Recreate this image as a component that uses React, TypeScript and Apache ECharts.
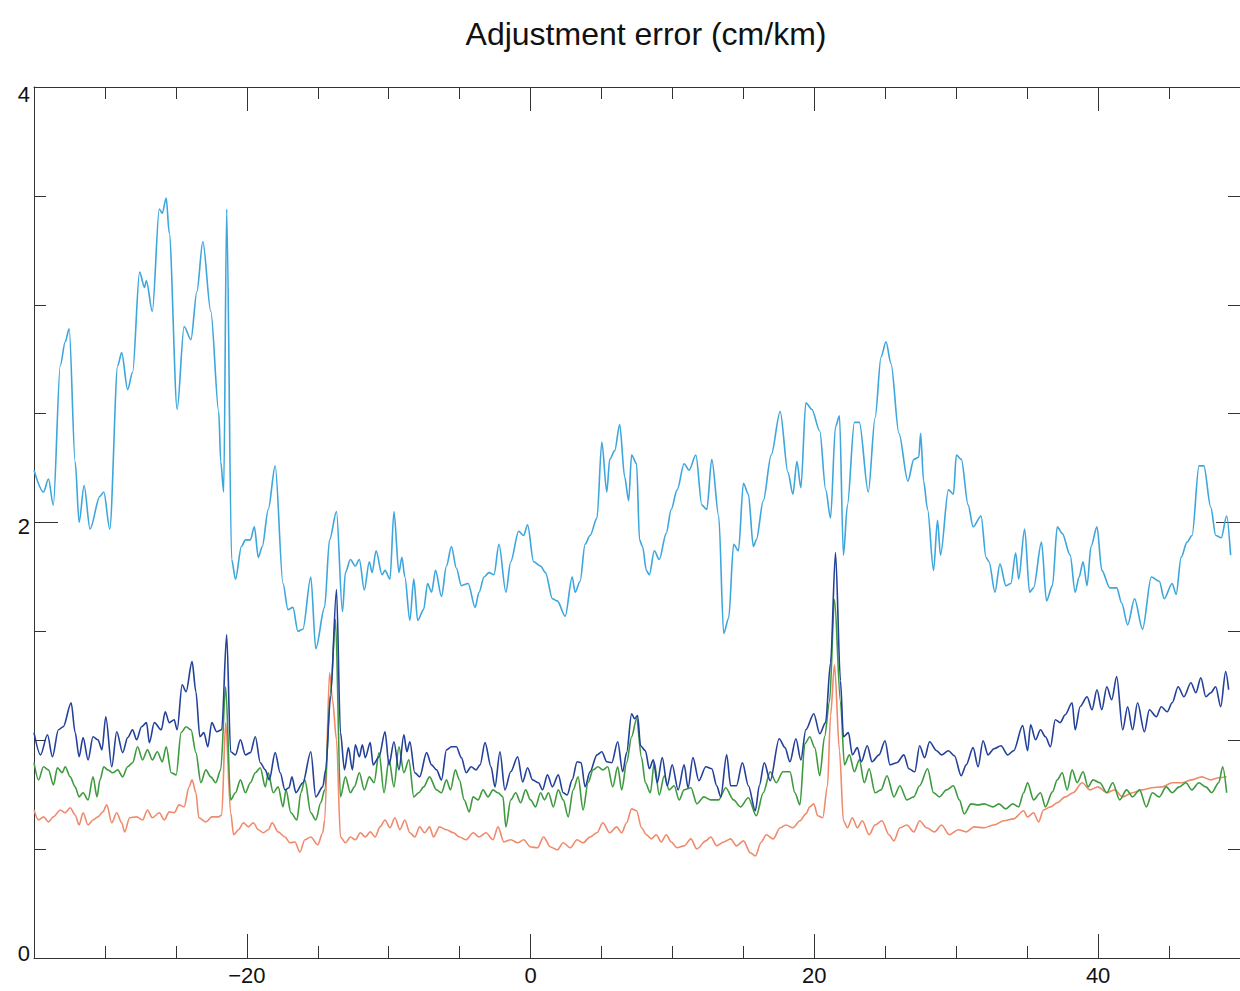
import React, { useEffect, useRef } from "react";
import * as echarts from "echarts";

const titleText = "Adjustment error (cm/km)";

const xMajorTicks = [-20, 0, 20, 40];
const xMinorTicks = [-30, -25, -15, -10, -5, 5, 10, 15, 25, 30, 35, 45];
const yLabelValues = [0, 2, 4];
const yMajorTicks = [2];
const yMinorTicks = [0.5, 1, 1.5, 2.5, 3, 3.5];

const lightBlueData = [
  [-35.0, 2.24], [-34.33, 2.14], [-33.98, 2.2], [-33.64, 2.08], [-33.15, 2.72], [-32.8, 2.83], [-32.52, 2.89],
  [-32.1, 2.28], [-31.82, 2.0], [-31.47, 2.17], [-31.05, 1.97], [-30.36, 2.12], [-30.08, 2.14], [-29.66, 1.97],
  [-29.1, 2.72], [-28.82, 2.78], [-28.4, 2.61], [-28.05, 2.69], [-27.56, 3.15], [-27.21, 3.08], [-27.08, 3.11],
  [-26.66, 2.97], [-26.17, 3.44], [-25.96, 3.42], [-25.68, 3.49], [-25.47, 3.33], [-24.91, 2.52], [-24.42, 2.9],
  [-23.94, 2.84], [-23.52, 3.06], [-23.1, 3.29], [-22.54, 2.97], [-21.98, 2.51], [-21.84, 2.28], [-21.63, 2.14],
  [-21.42, 3.44], [-21.07, 1.83], [-20.8, 1.74], [-20.38, 1.89], [-20.1, 1.92], [-19.75, 1.92], [-19.47, 1.98],
  [-19.19, 1.84], [-18.91, 1.89], [-18.49, 2.06], [-18.0, 2.26], [-17.45, 1.72], [-17.1, 1.6], [-16.75, 1.61],
  [-16.4, 1.5], [-16.05, 1.51], [-15.49, 1.75], [-15.14, 1.42], [-14.52, 1.61], [-14.17, 1.92], [-13.68, 2.05],
  [-13.26, 1.59], [-13.05, 1.77], [-12.7, 1.83], [-12.35, 1.8], [-12.07, 1.83], [-11.72, 1.69], [-11.37, 1.82],
  [-11.17, 1.77], [-10.89, 1.87], [-10.47, 1.76], [-10.26, 1.78], [-9.91, 1.74], [-9.63, 2.05], [-9.28, 1.77],
  [-9.07, 1.84], [-8.86, 1.75], [-8.51, 1.55], [-8.23, 1.74], [-7.96, 1.55], [-7.54, 1.6], [-7.26, 1.72],
  [-6.98, 1.68], [-6.7, 1.78], [-6.28, 1.66], [-5.93, 1.8], [-5.58, 1.89], [-5.23, 1.79], [-4.88, 1.71],
  [-4.4, 1.72], [-3.91, 1.61], [-3.63, 1.68], [-3.28, 1.75], [-2.93, 1.77], [-2.58, 1.76], [-2.23, 1.9],
  [-1.74, 1.68], [-1.4, 1.82], [-0.84, 1.96], [-0.49, 1.94], [-0.21, 1.99], [0.21, 1.82], [0.7, 1.8],
  [1.05, 1.77], [1.54, 1.65], [1.88, 1.64], [2.44, 1.57], [2.93, 1.75], [3.14, 1.68], [3.49, 1.73],
  [3.84, 1.9], [4.19, 1.94], [4.68, 2.02], [5.02, 2.37], [5.37, 2.14], [5.58, 2.29], [5.93, 2.33],
  [6.28, 2.45], [6.63, 2.21], [6.91, 2.1], [7.12, 2.31], [7.47, 2.27], [7.68, 1.92], [7.89, 1.89],
  [8.16, 1.78], [8.37, 1.76], [8.72, 1.87], [9.07, 1.83], [9.56, 1.95], [9.91, 2.06], [10.33, 2.15],
  [10.82, 2.27], [11.17, 2.24], [11.65, 2.31], [12.07, 2.08], [12.42, 2.06], [12.77, 2.29], [13.26, 2.03],
  [13.61, 1.49], [13.96, 1.56], [14.31, 1.9], [14.65, 1.87], [15.0, 2.18], [15.35, 2.13], [15.7, 1.89],
  [15.91, 1.92], [16.4, 2.1], [16.96, 2.31], [17.59, 2.51], [18.14, 2.23], [18.49, 2.13], [18.77, 2.28],
  [19.05, 2.16], [19.4, 2.55], [19.82, 2.52], [20.38, 2.42], [20.8, 2.15], [21.14, 2.02], [21.49, 2.44],
  [21.77, 2.49], [22.05, 1.85], [22.33, 2.08], [22.82, 2.46], [23.17, 2.46], [23.8, 2.14], [24.28, 2.48],
  [24.7, 2.76], [25.05, 2.83], [25.4, 2.73], [25.96, 2.41], [26.59, 2.19], [27.01, 2.29], [27.36, 2.3],
  [27.49, 2.41], [27.7, 2.19], [27.98, 2.06], [28.4, 1.78], [28.68, 2.01], [28.89, 1.85], [29.45, 2.15],
  [29.8, 2.13], [30.01, 2.31], [30.36, 2.29], [30.84, 2.08], [31.19, 1.98], [31.75, 2.03], [32.1, 1.84],
  [32.31, 1.82], [32.73, 1.68], [33.08, 1.81], [33.5, 1.71], [33.85, 1.72], [34.19, 1.86], [34.4, 1.74],
  [34.82, 1.97], [35.17, 1.68], [35.45, 1.7], [36.01, 1.91], [36.36, 1.64], [36.78, 1.71], [37.12, 1.98],
  [37.47, 1.95], [38.03, 1.85], [38.38, 1.68], [38.66, 1.75], [38.94, 1.82], [39.22, 1.71], [39.5, 1.89],
  [39.92, 1.98], [40.26, 1.78], [40.82, 1.7], [41.31, 1.7], [41.66, 1.63], [42.08, 1.53], [42.57, 1.65],
  [43.13, 1.51], [43.75, 1.75], [44.31, 1.73], [44.66, 1.65], [45.22, 1.72], [45.5, 1.67], [45.85, 1.84],
  [46.27, 1.91], [46.62, 1.94], [47.11, 2.26], [47.45, 2.26], [47.94, 2.07], [48.29, 1.94], [48.68, 1.93],
  [49.06, 2.03], [49.34, 1.85],
];

const darkBlueData = [
  [-35.0, 1.035], [-34.54, 0.933], [-34.05, 1.025], [-33.7, 0.924], [-33.28, 1.048], [-32.94, 1.062], [-32.38, 1.172],
  [-32.1, 1.035], [-31.82, 0.924], [-31.54, 1.012], [-31.19, 0.91], [-30.84, 1.016], [-30.49, 1.002], [-30.21, 0.956],
  [-29.94, 1.108], [-29.52, 0.878], [-29.17, 1.039], [-28.75, 0.943], [-28.4, 1.012], [-28.05, 1.048], [-27.77, 1.002],
  [-27.42, 1.062], [-27.07, 1.081], [-26.87, 0.989], [-26.52, 1.081], [-26.03, 1.048], [-25.75, 1.131], [-25.47, 1.081],
  [-25.12, 1.094], [-24.91, 1.048], [-24.56, 1.255], [-24.28, 1.223], [-23.86, 1.361], [-23.59, 1.223], [-23.31, 1.016],
  [-23.03, 1.035], [-22.75, 0.97], [-22.47, 1.081], [-22.12, 1.039], [-21.77, 1.048], [-21.42, 1.485], [-21.14, 0.947],
  [-20.8, 0.933], [-20.45, 1.002], [-20.1, 0.933], [-19.75, 0.943], [-19.4, 1.016], [-19.05, 0.897], [-18.7, 0.864],
  [-18.42, 0.818], [-18.0, 0.943], [-17.65, 0.851], [-17.31, 0.772], [-17.03, 0.782], [-16.82, 0.832], [-16.54, 0.759],
  [-16.05, 0.805], [-15.49, 0.947], [-15.14, 0.74], [-14.65, 0.786], [-14.44, 0.864], [-14.1, 1.2], [-13.68, 1.692],
  [-13.4, 1.035], [-13.12, 0.864], [-12.84, 0.966], [-12.56, 0.864], [-12.35, 0.979], [-12.07, 0.924], [-11.86, 0.979],
  [-11.65, 0.92], [-11.3, 0.989], [-11.1, 0.887], [-10.68, 0.924], [-10.26, 1.039], [-9.98, 0.887], [-9.63, 0.993],
  [-9.28, 0.864], [-8.93, 1.025], [-8.72, 0.947], [-8.51, 0.993], [-8.16, 0.851], [-7.82, 0.832], [-7.33, 0.943],
  [-6.98, 0.887], [-6.63, 0.864], [-6.28, 0.818], [-5.93, 0.956], [-5.58, 0.97], [-5.23, 0.97], [-4.88, 0.92],
  [-4.54, 0.851], [-4.19, 0.878], [-3.84, 0.864], [-3.56, 0.887], [-3.21, 0.989], [-2.79, 0.878], [-2.51, 0.786],
  [-2.16, 0.947], [-1.81, 0.772], [-1.4, 0.855], [-0.91, 0.924], [-0.56, 0.809], [-0.21, 0.874], [0.14, 0.818],
  [0.56, 0.805], [0.84, 0.772], [1.19, 0.841], [1.54, 0.786], [1.95, 0.841], [2.3, 0.759], [2.58, 0.749],
  [2.93, 0.818], [3.28, 0.901], [3.56, 0.897], [3.84, 0.786], [4.19, 0.855], [4.68, 0.933], [5.02, 0.947],
  [5.37, 0.901], [5.72, 0.897], [6.14, 0.993], [6.49, 0.855], [6.77, 0.943], [7.12, 1.122], [7.33, 1.099],
  [7.54, 1.113], [7.75, 0.975], [8.09, 0.952], [8.37, 0.869], [8.65, 0.91], [8.93, 0.805], [9.28, 0.92],
  [9.63, 0.791], [9.98, 0.887], [10.4, 0.772], [10.82, 0.887], [11.1, 0.782], [11.44, 0.92], [11.86, 0.814],
  [12.35, 0.878], [12.77, 0.869], [13.12, 0.791], [13.4, 0.74], [13.82, 0.933], [14.1, 0.791], [14.51, 0.791],
  [14.93, 0.897], [15.35, 0.791], [15.84, 0.676], [16.12, 0.791], [16.47, 0.897], [16.89, 0.814], [17.52, 1.007],
  [17.93, 0.966], [18.28, 0.901], [18.7, 1.007], [19.05, 0.91], [19.4, 1.048], [19.96, 1.122], [20.38, 1.03],
  [20.79, 1.081], [21.14, 1.356], [21.49, 1.862], [21.84, 1.274], [22.05, 1.016], [22.4, 1.035], [22.68, 0.933],
  [23.03, 0.966], [23.31, 0.901], [23.73, 0.975], [24.07, 0.901], [24.56, 0.933], [24.98, 0.998], [25.33, 0.887],
  [25.82, 0.897], [26.31, 0.933], [26.66, 0.869], [27.08, 0.855], [27.42, 0.975], [27.77, 0.92], [28.12, 0.993],
  [28.61, 0.952], [28.96, 0.933], [29.45, 0.952], [29.87, 0.929], [30.35, 0.837], [30.7, 0.887], [31.19, 0.966],
  [31.54, 0.878], [31.89, 0.998], [32.24, 0.933], [32.66, 0.961], [33.15, 0.975], [33.63, 0.933], [34.05, 0.952],
  [34.68, 1.067], [35.03, 0.952], [35.24, 1.071], [35.59, 1.002], [35.94, 1.048], [36.29, 1.016], [36.64, 0.97],
  [36.98, 1.094], [37.33, 1.081], [37.68, 1.117], [38.17, 1.172], [38.38, 1.048], [38.73, 1.154], [39.22, 1.2],
  [39.57, 1.14], [39.92, 1.232], [40.26, 1.14], [40.61, 1.246], [40.96, 1.186], [41.31, 1.292], [41.73, 1.048],
  [42.08, 1.154], [42.43, 1.048], [42.78, 1.172], [43.26, 1.039], [43.61, 1.14], [44.1, 1.108], [44.45, 1.154],
  [44.87, 1.131], [45.22, 1.172], [45.64, 1.246], [46.05, 1.2], [46.54, 1.264], [46.89, 1.218], [47.24, 1.287],
  [47.59, 1.2], [47.94, 1.218], [48.29, 1.246], [48.64, 1.154], [48.99, 1.315], [49.2, 1.232],
];

const greenData = [
  [-35.0, 0.897], [-34.68, 0.818], [-34.33, 0.878], [-33.98, 0.864], [-33.63, 0.795], [-33.35, 0.874], [-33.01, 0.851],
  [-32.8, 0.878], [-32.45, 0.832], [-32.1, 0.786], [-31.82, 0.74], [-31.54, 0.759], [-31.19, 0.726], [-30.84, 0.832],
  [-30.56, 0.74], [-30.35, 0.818], [-30.08, 0.878], [-29.8, 0.864], [-29.45, 0.851], [-29.1, 0.864], [-28.75, 0.832],
  [-28.4, 0.878], [-28.05, 0.897], [-27.7, 0.97], [-27.35, 0.91], [-27.0, 0.956], [-26.66, 0.91], [-26.31, 0.947],
  [-25.96, 0.901], [-25.68, 0.97], [-25.33, 0.851], [-24.98, 0.841], [-24.63, 1.035], [-24.28, 1.062], [-23.93, 1.048],
  [-23.59, 0.943], [-23.24, 0.805], [-22.89, 0.864], [-22.54, 0.832], [-22.19, 0.805], [-21.84, 0.864], [-21.49, 1.246],
  [-21.14, 0.726], [-20.8, 0.759], [-20.45, 0.818], [-20.1, 0.759], [-19.75, 0.805], [-19.4, 0.851], [-19.05, 0.874],
  [-18.7, 0.786], [-18.49, 0.851], [-18.14, 0.759], [-17.79, 0.786], [-17.45, 0.694], [-17.24, 0.772], [-16.89, 0.667],
  [-16.47, 0.634], [-16.19, 0.759], [-15.91, 0.818], [-15.49, 0.667], [-15.14, 0.634], [-14.79, 0.713], [-14.51, 0.772],
  [-14.1, 1.218], [-13.75, 1.554], [-13.4, 0.74], [-13.05, 0.832], [-12.7, 0.759], [-12.42, 0.786], [-12.07, 0.851],
  [-11.72, 0.772], [-11.37, 0.832], [-11.03, 0.805], [-10.68, 0.943], [-10.33, 0.759], [-9.98, 0.91], [-9.63, 0.786],
  [-9.28, 0.97], [-8.93, 0.851], [-8.58, 0.91], [-8.23, 0.74], [-7.89, 0.759], [-7.54, 0.786], [-7.12, 0.832],
  [-6.63, 0.772], [-6.28, 0.759], [-5.93, 0.818], [-5.65, 0.772], [-5.3, 0.864], [-5.02, 0.818], [-4.68, 0.726],
  [-4.33, 0.671], [-4.05, 0.74], [-3.7, 0.726], [-3.35, 0.772], [-3.0, 0.74], [-2.65, 0.772], [-2.3, 0.759],
  [-1.95, 0.74], [-1.74, 0.602], [-1.4, 0.726], [-1.05, 0.759], [-0.7, 0.713], [-0.35, 0.772], [0.0, 0.726],
  [0.35, 0.694], [0.7, 0.759], [0.98, 0.726], [1.26, 0.759], [1.6, 0.694], [1.95, 0.772], [2.3, 0.726],
  [2.65, 0.648], [3.0, 0.772], [3.35, 0.832], [3.7, 0.68], [4.05, 0.805], [4.4, 0.864], [4.75, 0.878],
  [5.09, 0.864], [5.44, 0.878], [5.79, 0.786], [6.14, 0.878], [6.42, 0.772], [6.77, 0.897], [7.12, 1.016],
  [7.47, 1.099], [7.82, 0.92], [8.09, 0.805], [8.44, 0.759], [8.72, 0.897], [9.07, 0.749], [9.42, 0.837],
  [9.77, 0.772], [10.12, 0.791], [10.47, 0.726], [10.82, 0.772], [11.3, 0.782], [11.72, 0.708], [12.21, 0.74],
  [12.7, 0.726], [13.26, 0.726], [13.75, 0.782], [14.31, 0.726], [14.79, 0.694], [15.35, 0.736], [15.91, 0.653],
  [16.4, 0.759], [16.89, 0.855], [17.31, 0.805], [17.79, 0.855], [18.28, 0.855], [18.63, 0.759], [18.98, 0.703],
  [19.33, 0.984], [19.68, 1.016], [20.03, 0.966], [20.38, 0.837], [20.72, 1.016], [21.07, 1.177], [21.42, 1.646],
  [21.84, 1.177], [22.12, 0.887], [22.47, 0.933], [22.82, 0.855], [23.17, 0.91], [23.52, 0.805], [23.86, 0.869],
  [24.28, 0.759], [24.7, 0.772], [25.12, 0.837], [25.61, 0.74], [26.03, 0.791], [26.52, 0.726], [27.01, 0.74],
  [27.42, 0.791], [27.98, 0.869], [28.4, 0.759], [28.82, 0.74], [29.31, 0.772], [29.8, 0.791], [30.22, 0.726],
  [30.56, 0.662], [31.05, 0.708], [31.54, 0.703], [31.96, 0.708], [32.59, 0.694], [33.01, 0.708], [33.49, 0.685],
  [33.98, 0.708], [34.4, 0.694], [34.75, 0.759], [35.03, 0.805], [35.45, 0.726], [35.94, 0.759], [36.29, 0.694],
  [36.78, 0.763], [37.12, 0.818], [37.47, 0.851], [37.82, 0.772], [38.17, 0.864], [38.52, 0.805], [38.94, 0.855],
  [39.29, 0.786], [39.64, 0.818], [40.12, 0.805], [40.61, 0.759], [41.03, 0.805], [41.52, 0.726], [42.01, 0.772],
  [42.43, 0.74], [42.92, 0.772], [43.4, 0.694], [43.82, 0.759], [44.31, 0.74], [44.8, 0.786], [45.22, 0.759],
  [45.71, 0.786], [46.19, 0.805], [46.61, 0.772], [47.1, 0.805], [47.59, 0.786], [48.01, 0.759], [48.5, 0.805],
  [48.78, 0.878], [49.06, 0.759],
];

const orangeData = [
  [-35.0, 0.68], [-34.68, 0.634], [-34.33, 0.648], [-33.98, 0.625], [-33.63, 0.648], [-33.15, 0.68], [-32.8, 0.667],
  [-32.45, 0.69], [-32.1, 0.657], [-31.82, 0.611], [-31.54, 0.667], [-31.19, 0.611], [-30.84, 0.634], [-30.49, 0.648],
  [-30.15, 0.671], [-29.87, 0.703], [-29.52, 0.621], [-29.17, 0.667], [-28.82, 0.621], [-28.61, 0.579], [-28.26, 0.644],
  [-27.77, 0.648], [-27.35, 0.634], [-27.0, 0.68], [-26.66, 0.644], [-26.17, 0.667], [-25.82, 0.634], [-25.47, 0.671],
  [-25.12, 0.667], [-24.77, 0.703], [-24.42, 0.694], [-24.07, 0.786], [-23.86, 0.818], [-23.59, 0.759], [-23.38, 0.644],
  [-22.89, 0.625], [-22.47, 0.648], [-21.98, 0.648], [-21.77, 0.657], [-21.49, 1.081], [-21.14, 0.667], [-20.93, 0.566],
  [-20.59, 0.589], [-20.24, 0.621], [-19.89, 0.602], [-19.54, 0.621], [-19.19, 0.589], [-18.84, 0.575], [-18.49, 0.589],
  [-18.21, 0.621], [-17.79, 0.579], [-17.31, 0.556], [-16.96, 0.529], [-16.61, 0.533], [-16.26, 0.487], [-15.91, 0.543],
  [-15.49, 0.556], [-15.0, 0.52], [-14.65, 0.575], [-14.51, 0.634], [-14.17, 1.31], [-13.96, 1.186], [-13.68, 1.002],
  [-13.4, 0.556], [-13.05, 0.529], [-12.7, 0.556], [-12.35, 0.543], [-12.0, 0.575], [-11.65, 0.556], [-11.3, 0.579],
  [-10.96, 0.556], [-10.61, 0.602], [-10.26, 0.634], [-9.91, 0.598], [-9.56, 0.644], [-9.21, 0.589], [-8.86, 0.634],
  [-8.51, 0.575], [-8.16, 0.556], [-7.82, 0.602], [-7.47, 0.575], [-7.12, 0.602], [-6.84, 0.556], [-6.42, 0.602],
  [-5.93, 0.589], [-5.44, 0.575], [-5.02, 0.556], [-4.54, 0.543], [-4.05, 0.575], [-3.63, 0.556], [-3.14, 0.575],
  [-2.65, 0.543], [-2.3, 0.602], [-1.88, 0.533], [-1.4, 0.543], [-0.91, 0.529], [-0.49, 0.543], [0.0, 0.51],
  [0.49, 0.506], [0.91, 0.556], [1.4, 0.51], [1.88, 0.497], [2.3, 0.529], [2.79, 0.506], [3.28, 0.543],
  [3.7, 0.529], [4.19, 0.556], [4.68, 0.575], [5.09, 0.621], [5.58, 0.575], [6.07, 0.602], [6.42, 0.575],
  [6.77, 0.621], [7.12, 0.685], [7.47, 0.676], [7.82, 0.598], [8.16, 0.566], [8.51, 0.547], [8.86, 0.566],
  [9.21, 0.533], [9.56, 0.566], [9.91, 0.533], [10.33, 0.506], [10.82, 0.515], [11.3, 0.547], [11.72, 0.501],
  [12.35, 0.538], [12.7, 0.556], [13.12, 0.515], [13.61, 0.533], [14.1, 0.547], [14.51, 0.515], [15.0, 0.538],
  [15.49, 0.483], [15.84, 0.469], [16.26, 0.533], [16.61, 0.566], [17.1, 0.547], [17.59, 0.598], [18.0, 0.611],
  [18.49, 0.598], [18.98, 0.63], [19.4, 0.662], [19.68, 0.694], [19.96, 0.708], [20.24, 0.653], [20.59, 0.644],
  [20.93, 0.791], [21.14, 1.113], [21.42, 1.347], [21.77, 0.952], [22.05, 0.63], [22.33, 0.598], [22.68, 0.644],
  [23.03, 0.598], [23.38, 0.63], [23.86, 0.566], [24.28, 0.611], [24.77, 0.63], [25.26, 0.566], [25.61, 0.538],
  [26.03, 0.598], [26.52, 0.611], [27.01, 0.579], [27.42, 0.63], [27.91, 0.598], [28.47, 0.579], [28.96, 0.611],
  [29.52, 0.566], [30.15, 0.589], [30.7, 0.579], [31.26, 0.602], [31.96, 0.598], [32.66, 0.611], [33.36, 0.63],
  [34.05, 0.639], [34.75, 0.676], [35.03, 0.648], [35.45, 0.667], [35.8, 0.625], [36.15, 0.68], [36.64, 0.694],
  [37.12, 0.713], [37.68, 0.74], [38.24, 0.759], [38.87, 0.805], [39.43, 0.772], [39.98, 0.786], [40.61, 0.759],
  [41.17, 0.772], [41.73, 0.74], [42.43, 0.759], [43.13, 0.772], [43.82, 0.782], [44.52, 0.786], [45.22, 0.805],
  [45.92, 0.805], [46.61, 0.818], [47.31, 0.832], [47.94, 0.818], [48.5, 0.828], [49.06, 0.832],
];

const COLORS = {
  lightBlue: "#3da6dd",
  darkBlue: "#23409a",
  green: "#3e9a3e",
  orange: "#f08a6c",
};

const FONT = "'Liberation Sans', Arial, Helvetica, sans-serif";

export default function App() {
  const ref = useRef<HTMLDivElement>(null);
  useEffect(() => {
    if (!ref.current) return;
    const chart = echarts.init(ref.current, null, { renderer: "svg" });
    const axisLine = { show: true, onZero: false, lineStyle: { color: "#333", width: 1 } };
    const noLine = { show: false, onZero: false };
    const tickStyle = { color: "#333", width: 1 };
    const baseX = {
      type: "value",
      min: -35,
      max: 50,
      splitLine: { show: false },
      gridIndex: 0,
    };
    const baseY = {
      type: "value",
      min: 0,
      max: 4,
      interval: 2,
      splitLine: { show: false },
      gridIndex: 0,
    };
    const labelText = { fontFamily: FONT, fontSize: 22, color: "#111" };
    const xAxisOf = (position: string, ticks: number[], len: number, withLine: boolean, labels: boolean) => ({
      ...baseX,
      position,
      axisLine: withLine ? axisLine : noLine,
      axisTick: { show: true, inside: true, length: len, customValues: ticks, lineStyle: tickStyle },
      axisLabel: labels
        ? {
            show: true,
            customValues: xMajorTicks,
            margin: 6,
            ...labelText,
            formatter: (v: number) => String(v).replace("-", "\u2212"),
          }
        : { show: false },
    });
    const yAxisOf = (position: string, ticks: number[], len: number, withLine: boolean, labels: boolean) => ({
      ...baseY,
      position,
      axisLine: withLine ? axisLine : noLine,
      axisTick: { show: true, inside: true, length: len, customValues: ticks, lineStyle: tickStyle },
      axisLabel: labels
        ? {
            show: true,
            customValues: yLabelValues,
            margin: 4,
            ...labelText,
            formatter: (v: number) => (v === 4 ? "{hi|4}" : v === 0 ? "{lo|0}" : "{mid|" + v + "}"),
            rich: {
              hi: { ...labelText, padding: [14, 0, 0, 0] },
              mid: { ...labelText, padding: [8, 0, 0, 0] },
              lo: { ...labelText, padding: [0, 0, 10, 0] },
            },
          }
        : { show: false },
    });
    const line = (name: string, data: number[][], color: string) => ({
      name,
      type: "line",
      data,
      xAxisIndex: 0,
      yAxisIndex: 0,
      showSymbol: false,
      symbol: "none",
      smooth: 0.3,
      smoothMonotone: "x",
      lineStyle: { color, width: 1.6 },
      itemStyle: { color },
      z: 3,
    });
    chart.setOption({
      animation: false,
      backgroundColor: "#ffffff",
      title: {
        text: titleText,
        left: 641,
        top: 13,
        textAlign: "center",
        textStyle: { fontFamily: FONT, fontSize: 32, fontWeight: "normal", color: "#111" },
      },
      grid: { left: 34, right: -10, top: 87, bottom: 33, containLabel: false },
      xAxis: [
        xAxisOf("bottom", xMajorTicks, 24, true, true),
        xAxisOf("bottom", xMinorTicks, 12, false, false),
        xAxisOf("top", xMajorTicks, 24, true, false),
        xAxisOf("top", xMinorTicks, 12, false, false),
      ],
      yAxis: [
        yAxisOf("left", yMajorTicks, 24, true, true),
        yAxisOf("left", yMinorTicks, 12, false, false),
        yAxisOf("right", yMajorTicks, 24, true, false),
        yAxisOf("right", yMinorTicks, 12, false, false),
      ],
      series: [
        line("Light blue", lightBlueData, COLORS.lightBlue),
        line("Orange", orangeData, COLORS.orange),
        line("Green", greenData, COLORS.green),
        line("Dark blue", darkBlueData, COLORS.darkBlue),
      ],
    });
    return () => chart.dispose();
  }, []);
  return (
    <div
      ref={ref}
      style={{ position: "fixed", left: 0, top: 0, width: 1240, height: 991, background: "#fff" }}
    />
  );
}
